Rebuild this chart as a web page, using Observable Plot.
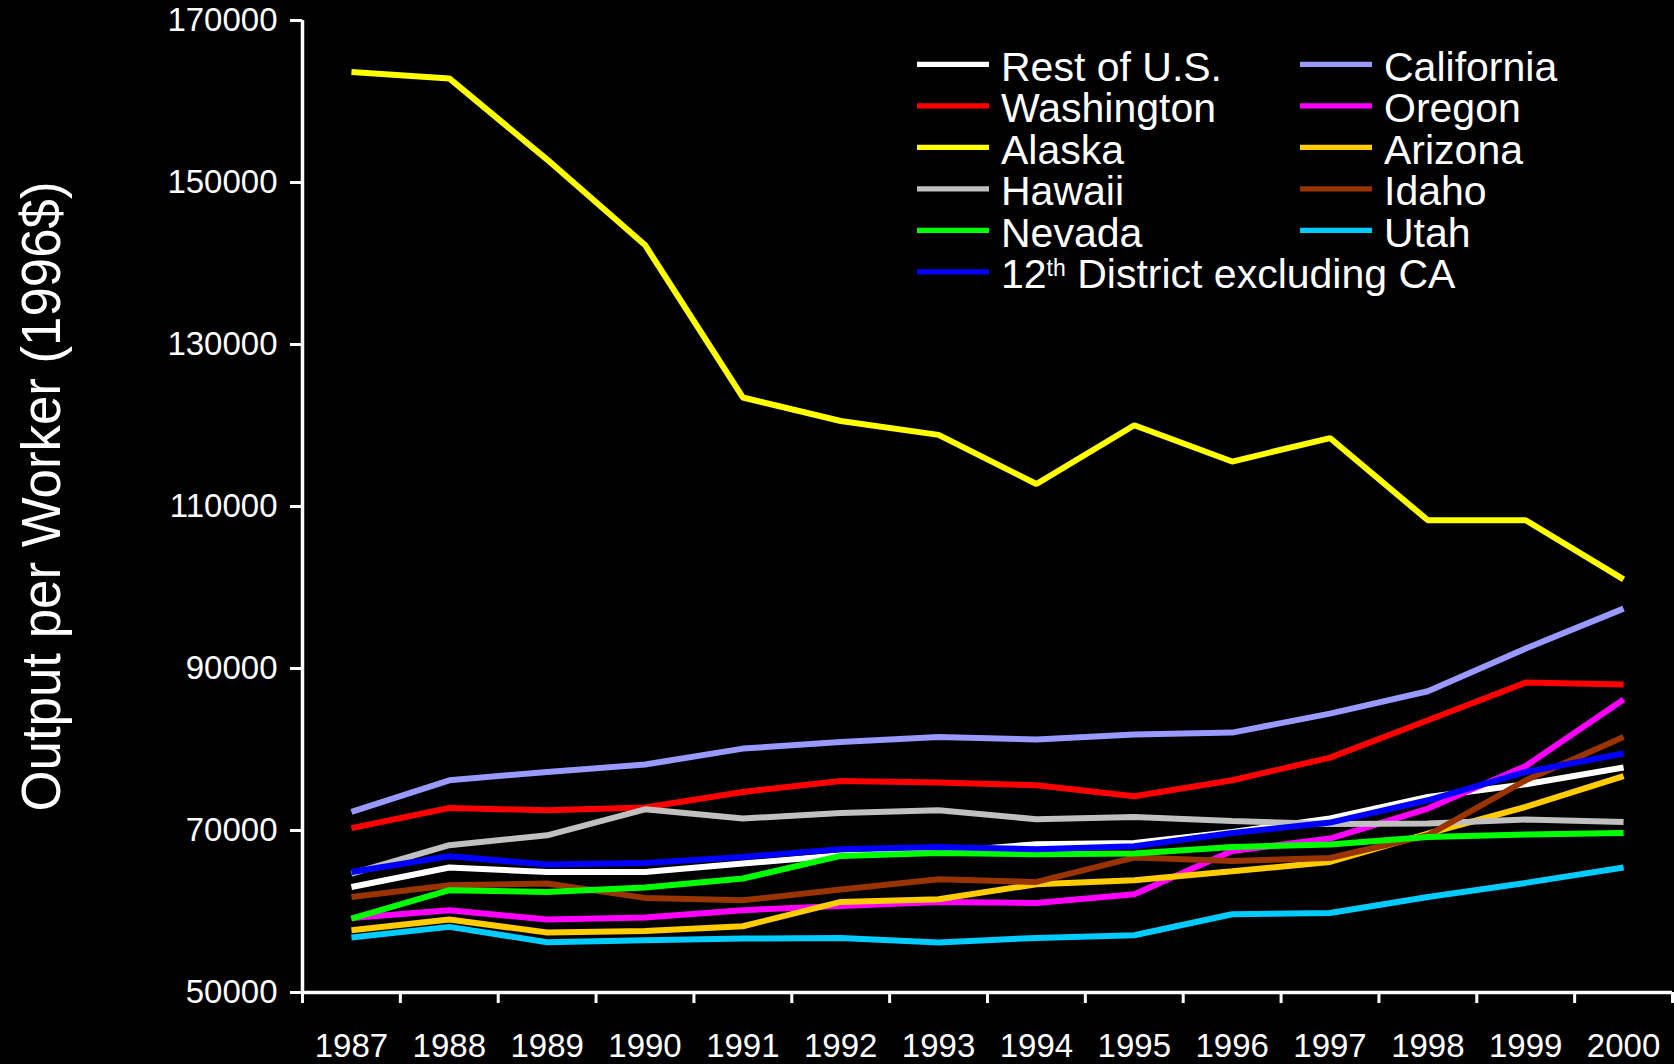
<!DOCTYPE html>
<html><head><meta charset="utf-8">
<script src="https://cdn.jsdelivr.net/npm/d3@7"></script>
<script src="https://cdn.jsdelivr.net/npm/@observablehq/plot@0.6"></script>
<style>
html,body{margin:0;padding:0;background:#000;}
#chart{position:relative;width:1674px;height:1064px;}
</style></head><body><div id="chart"></div>
<script>
const years = [1987,1988,1989,1990,1991,1992,1993,1994,1995,1996,1997,1998,1999,2000];
const seriesNames = ["Rest of U.S.","California","Washington","Oregon","Alaska","Arizona","Hawaii","Idaho","Nevada","Utah","12th District excluding CA"];
const seriesColors = ["#ffffff","#9999ff","#ff0000","#ff00ff","#ffff00","#ffcc00","#c0c0c0","#993300","#00ff00","#00ccff","#0000ff"];
const restOfUS   = [63030,65430,64880,64880,65920,66950,67350,68300,68460,69820,71480,74140,75710,77770];
const california = [72290,76200,77230,78140,80110,80930,81550,81220,81840,82090,84430,87190,92460,97390];
const washington = [70300,72780,72500,72830,74760,76120,75920,75590,74230,76200,79000,83610,88260,88010];
const oregon     = [59200,60160,59010,59260,60160,60690,61180,61060,62130,67480,69010,72710,77970,86160];
const alaska     = [163640,162850,152830,142290,123460,120560,118840,112780,120030,115550,118450,108300,108300,101000];
const arizona    = [57690,59010,57400,57600,58180,61180,61510,63370,63860,64970,66120,69620,72910,76700];
const hawaii     = [64690,68180,69410,72620,71480,72170,72500,71390,71670,71180,70800,70860,71350,71060];
const idaho      = [61800,63240,63450,61680,61390,62710,63980,63650,66660,66240,66610,69410,76200,81550];
const nevada     = [59130,62630,62420,62960,64070,66860,67230,67070,67160,67970,68270,69200,69500,69700];
const utah       = [56790,58100,56210,56450,56660,56740,56170,56740,57070,59660,59820,61800,63530,65430];
const district12 = [64880,66820,65800,66000,66740,67690,67970,67690,68060,69700,70980,73730,77230,79500];
const seriesValues = [restOfUS,california,washington,oregon,alaska,arizona,hawaii,idaho,nevada,utah,district12];
const yTicks = [50000,70000,90000,110000,130000,150000,170000];
const yTitle = "Output per Worker (1996$)";

const FONT = "'Liberation Sans', Arial, Helvetica, sans-serif";
const xDomain = [years[0] - 0.5, years[years.length - 1] + 0.5];
const bounds = [xDomain[0], ...years.map(y => y + 0.5)];

const lineMarks = seriesNames.map((name, i) =>
  Plot.line(years.map((yr, j) => ({year: yr, value: seriesValues[i][j]})), {
    x: "year", y: "value", stroke: seriesColors[i], strokeWidth: 6,
    strokeLinecap: "butt", strokeLinejoin: "miter"
  })
);

const svg = Plot.plot({
  width: 1674, height: 1064,
  marginLeft: 302, marginRight: 2, marginTop: 20, marginBottom: 72,
  style: {background: "#000", color: "#fff", fontFamily: FONT, fontSize: "33px"},
  x: {type: "linear", domain: xDomain},
  y: {domain: [yTicks[0], yTicks[yTicks.length - 1]]},
  marks: [
    Plot.axisY({ticks: yTicks, tickSize: 12, tickPadding: 13, tickFormat: d3.format("d"), strokeWidth: 3, label: null}),
    Plot.axisX({ticks: years, tickSize: 0, tickPadding: 41, tickFormat: d3.format("d"), label: null}),
    Plot.axisX({ticks: bounds, tickSize: 11, tickFormat: () => "", strokeWidth: 3, label: null}),
    Plot.ruleY([yTicks[0]], {stroke: "#fff", strokeWidth: 3.5}),
    Plot.ruleX([xDomain[0]], {stroke: "#fff", strokeWidth: 3.5}),
    ...lineMarks
  ]
});
document.getElementById("chart").appendChild(svg);

const s = d3.select(svg);
// y-axis title
s.append("text")
  .attr("transform", "translate(60,496.5) rotate(-90)")
  .attr("text-anchor", "middle")
  .attr("font-family", FONT).attr("font-size", 55)
  .attr("fill", "#fff")
  .attr("textLength", 630).attr("lengthAdjust", "spacingAndGlyphs")
  .text(yTitle);

// legend
const lg = s.append("g").attr("font-family", FONT).attr("font-size", 41)
  .attr("fill", "#fff").attr("text-anchor", "start");
seriesNames.forEach((name, i) => {
  const row = Math.floor(i / 2), col = i % 2;
  const x0 = col ? 1300 : 917;
  const cy = 64.3 + row * 41.5;
  lg.append("line").attr("x1", x0).attr("x2", x0 + 72).attr("y1", cy).attr("y2", cy)
    .attr("stroke", seriesColors[i]).attr("stroke-width", 5.3);
  const t = lg.append("text").attr("x", x0 + 84).attr("y", cy + 16.4).attr("text-anchor", "start");
  const m = name.match(/^(\d+)(th)(.*)$/);
  if (m) {
    t.append("tspan").text(m[1]);
    t.append("tspan").attr("font-size", 23).attr("dy", -12).text(m[2]);
    t.append("tspan").attr("dy", 12).text(m[3]);
  } else {
    t.text(name);
  }
});
</script>
</body></html>
